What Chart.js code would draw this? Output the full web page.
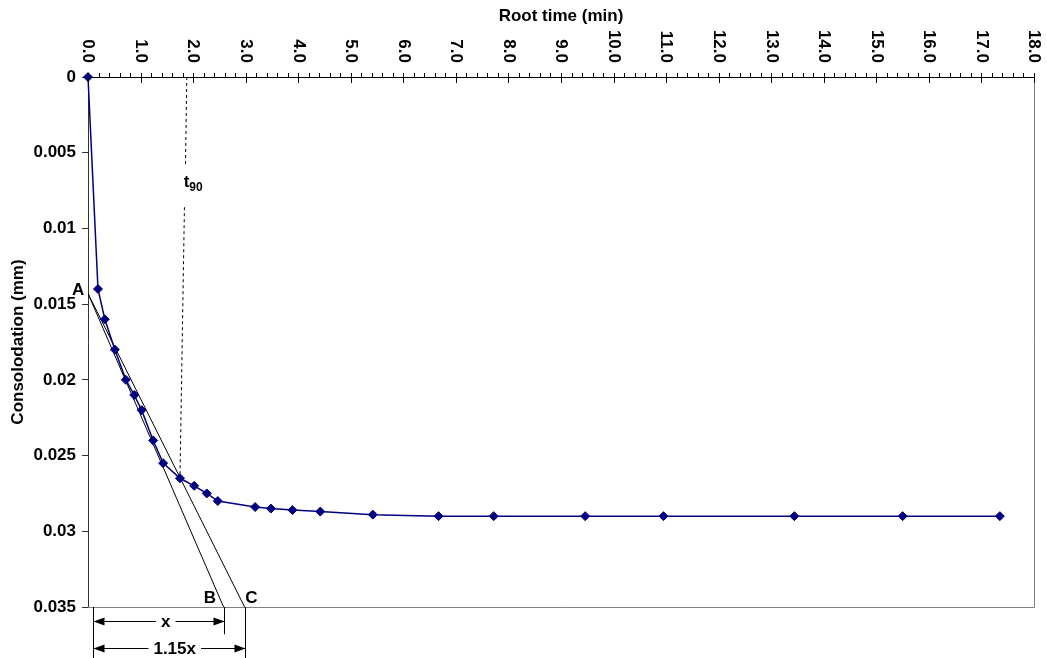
<!DOCTYPE html>
<html>
<head>
<meta charset="utf-8">
<script src="https://cdn.jsdelivr.net/npm/chart.js@4.4.1/dist/chart.umd.min.js"></script>
<style>
  body { margin: 0; background: #fff; }
  #wrap { width: 1047px; height: 658px; }
</style>
</head>
<body>
<div id="wrap"><canvas id="chart"></canvas></div>
<script>
// leituras do ensaio: raiz do tempo (min) x recalque (mm)
var rootTime = [0, 0.19, 0.32, 0.51, 0.72, 0.88, 1.02, 1.24, 1.43, 1.75, 2.02, 2.26, 2.47,
                3.18, 3.48, 3.89, 4.42, 5.42, 6.67, 7.72, 9.46, 10.95, 13.44, 15.5, 17.35];
var consolidation = [0, 0.014, 0.016, 0.018, 0.020, 0.021, 0.022, 0.024, 0.0255, 0.0265, 0.027, 0.0275, 0.028,
                     0.0284, 0.0285, 0.0286, 0.0287, 0.0289, 0.029, 0.029, 0.029, 0.029, 0.029, 0.029, 0.029];

// retas de construcao (Taylor)
var lineABx = [0, 2.58];
var lineABy = [0.0143, 0.035];
var lineACx = [0, 2.98];
var lineACy = [0.0143, 0.035];
var t90x = [1.88, 1.855, 1.845, 1.835, 1.75];
var t90y = [0, 0.0058, null, 0.0086, 0.0265];

// cotas abaixo do eixo
var dimStart = 0.1;
var dimX = 2.58;
var dimX115 = 2.98;

var xTickLabels = ['0.0', '1.0', '2.0', '3.0', '4.0', '5.0', '6.0', '7.0', '8.0', '9.0',
                   '10.0', '11.0', '12.0', '13.0', '14.0', '15.0', '16.0', '17.0', '18.0'];
var yTickLabels = ['0', '0.005', '0.01', '0.015', '0.02', '0.025', '0.03', '0.035'];

var FONT = "'Liberation Sans', Arial, sans-serif";

function pts(xs, ys) {
  return xs.map(function(x, i){ return {x: x, y: ys[i]}; });
}

// desenha ticks/rotulos do eixo x, letras e cotas
var annotate = {
  id: 'annotate',
  afterDraw: function(chart) {
    var ctx = chart.ctx, xs = chart.scales.x, ys = chart.scales.y, a = chart.chartArea;
    ctx.save();

    // borda da area do grafico
    ctx.strokeStyle = '#808080';
    ctx.lineWidth = 1;
    ctx.beginPath();
    ctx.moveTo(a.left, Math.round(a.bottom) + 0.5);
    ctx.lineTo(Math.round(a.right) + 0.5, Math.round(a.bottom) + 0.5);
    ctx.lineTo(Math.round(a.right) + 0.5, a.top);
    ctx.stroke();

    // ticks do eixo x (maior a cada 1.0, menor a cada 0.2)
    ctx.strokeStyle = '#000';
    ctx.beginPath();
    for (var i = 0; i <= 90; i++) {
      var px = Math.round(xs.getPixelForValue(i / 5)) + 0.5;
      var major = i % 5 === 0;
      ctx.moveTo(px, a.top - 4);
      ctx.lineTo(px, major ? a.top + 6 : a.top);
    }
    ctx.stroke();

    // rotulos do eixo x girados
    ctx.fillStyle = '#000';
    ctx.font = 'bold 17px ' + FONT;
    ctx.textAlign = 'right';
    ctx.textBaseline = 'middle';
    xTickLabels.forEach(function(lab, i){
      ctx.save();
      ctx.translate(xs.getPixelForValue(i), a.top - 14);
      ctx.rotate(Math.PI / 2);
      ctx.fillText(lab, 0, 0);
      ctx.restore();
    });

    // letras A, B, C
    ctx.textAlign = 'center';
    ctx.fillText('A', xs.getPixelForValue(-0.19), ys.getPixelForValue(0.0141));
    ctx.fillText('B', xs.getPixelForValue(2.32), ys.getPixelForValue(0.0344));
    ctx.fillText('C', xs.getPixelForValue(3.11), ys.getPixelForValue(0.0344));

    // t90
    ctx.textAlign = 'left';
    ctx.textBaseline = 'alphabetic';
    var tx = xs.getPixelForValue(1.82), ty = ys.getPixelForValue(0.00725);
    ctx.fillText('t', tx, ty);
    var tw = ctx.measureText('t').width;
    ctx.font = 'bold 12px ' + FONT;
    ctx.fillText('90', tx + tw, ty + 4);

    // linhas de chamada
    var x0 = Math.round(xs.getPixelForValue(dimStart)) + 0.5;
    var xb = Math.round(xs.getPixelForValue(dimX)) + 0.5;
    var xc = Math.round(xs.getPixelForValue(dimX115)) + 0.5;
    ctx.beginPath();
    ctx.moveTo(x0, a.bottom); ctx.lineTo(x0, ys.getPixelForValue(0.0385));
    ctx.moveTo(xb, a.bottom); ctx.lineTo(xb, ys.getPixelForValue(0.0368));
    ctx.moveTo(xc, a.bottom); ctx.lineTo(xc, ys.getPixelForValue(0.0385));
    ctx.stroke();

    function dim(x1, x2, y, label, lx) {
      y = Math.round(y) + 0.5;
      ctx.beginPath();
      ctx.moveTo(x1, y); ctx.lineTo(x2, y);
      ctx.stroke();
      ctx.beginPath();
      ctx.moveTo(x1, y); ctx.lineTo(x1 + 11, y - 4); ctx.lineTo(x1 + 11, y + 4); ctx.closePath();
      ctx.moveTo(x2, y); ctx.lineTo(x2 - 11, y - 4); ctx.lineTo(x2 - 11, y + 4); ctx.closePath();
      ctx.fill();
      ctx.font = 'bold 17px ' + FONT;
      var w = ctx.measureText(label).width;
      ctx.fillStyle = '#fff';
      ctx.fillRect(lx - w / 2 - 5, y - 6, w + 10, 12);
      ctx.fillStyle = '#000';
      ctx.textAlign = 'center';
      ctx.textBaseline = 'middle';
      ctx.fillText(label, lx, y + 1);
    }
    dim(x0, xb, ys.getPixelForValue(0.03595), 'x', xs.getPixelForValue(1.48));
    dim(x0, xc, ys.getPixelForValue(0.0377), '1.15x', xs.getPixelForValue(1.65));

    ctx.restore();
  }
};

new Chart(document.getElementById('chart'), {
  type: 'line',
  data: {
    datasets: [{
      data: pts(rootTime, consolidation),
      borderColor: '#000080',
      backgroundColor: '#000080',
      borderWidth: 1.5,
      pointStyle: 'rectRot',
      pointRadius: 4.5,
      pointBorderWidth: 1,
      tension: 0,
      clip: false
    }, {
      data: pts(lineABx, lineABy),
      borderColor: '#000',
      borderWidth: 1,
      pointRadius: 0
    }, {
      data: pts(lineACx, lineACy),
      borderColor: '#000',
      borderWidth: 1,
      pointRadius: 0
    }, {
      data: pts(t90x, t90y),
      borderColor: '#000',
      borderWidth: 1,
      borderDash: [3, 3],
      pointRadius: 0,
      spanGaps: false
    }]
  },
  options: {
    responsive: true,
    maintainAspectRatio: false,
    animation: false,
    layout: { padding: { top: 0, left: 0, right: 13, bottom: 51 } },
    plugins: { legend: { display: false }, tooltip: { enabled: false } },
    scales: {
      x: {
        type: 'linear',
        position: 'top',
        min: 0,
        max: 18,
        ticks: { display: false, stepSize: 1 },
        grid: { drawOnChartArea: false, drawTicks: false },
        border: { display: true, color: '#000', width: 1 },
        title: {
          display: true, text: 'Root time (min)', color: '#000',
          font: { family: FONT, size: 17, weight: 'bold' },
          padding: { top: 6, bottom: 0 }
        },
        afterFit: function(s){ s.height = 77; }
      },
      y: {
        type: 'linear',
        reverse: true,
        min: 0,
        max: 0.035,
        ticks: {
          stepSize: 0.005,
          color: '#000',
          padding: 6,
          font: { family: FONT, size: 17, weight: 'bold' },
          callback: function(v){ return yTickLabels[Math.round(v / 0.005)]; }
        },
        grid: { drawOnChartArea: false, tickLength: 6, color: '#333' },
        border: { display: true, color: '#333' },
        title: {
          display: true, text: 'Consolodation (mm)', color: '#000',
          font: { family: FONT, size: 17, weight: 'bold' },
          padding: { top: 8, bottom: 0 }
        },
        afterFit: function(s){ s.width = 88; }
      }
    }
  },
  plugins: [annotate]
});
</script>
</body>
</html>
